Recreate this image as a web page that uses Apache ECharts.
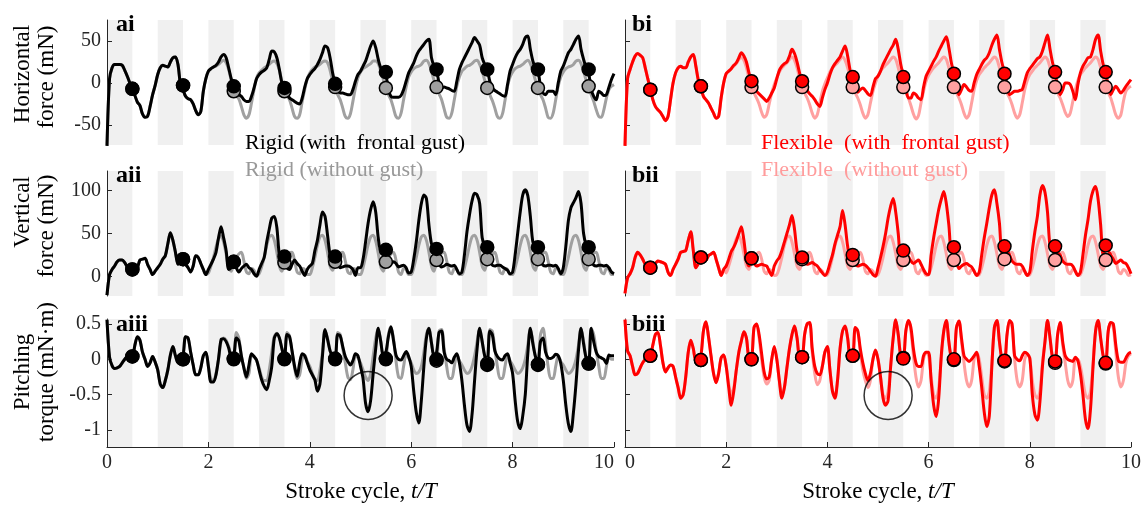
<!DOCTYPE html>
<html><head><meta charset="utf-8">
<script src="https://cdn.jsdelivr.net/npm/echarts@6/dist/echarts.min.js"></script>
<style>html,body{margin:0;padding:0;background:#fff}#c{width:1146px;height:505px}</style>
</head><body><div id="c"></div>
<script>
const bandStart = [0, 1, 2, 3, 4, 5, 6, 7, 8, 9];
const bandEnd   = [0.5, 1.5, 2.5, 3.5, 4.5, 5.5, 6.5, 7.5, 8.5, 9.5];
const markerT   = [0.5, 1.5, 2.5, 3.5, 4.5, 5.5, 6.5, 7.5, 8.5, 9.5];
const xTicks = [0, 2, 4, 6, 8, 10];
const yTicksH = [-50, 0, 50];
const yTicksV = [0, 50, 100];
const yTicksT = [-1, -0.5, 0, 0.5];

// Horizontal force (mN)
const rigidGustH = [
 -75,5,18,22,22,22,21,15,8,0,-7,-15,-23,-27,-37,-41,-40,-28,-14,-3,
 10,18,21,20,19,25,30,31,22,-2,-8,-16,-19,-20,-25,-33,-38,-34,-10,5,
 14,17,19,21,25,31,34,30,18,5,-5,-11,-14,-16,-20,-22,-22,-16,-6,5,
 10,13,15,18,28,38,37,30,16,0,-6,-12,-18,-20,-22,-24,-25,-18,-5,5,
 10,14,17,22,28,36,44,42,30,12,-1,-8,-12,-12,-13,-14,-14,-8,2,10,
 14,20,26,35,44,50,42,28,18,15,10,-8,-16,-17,-17,-17,-15,-8,2,12,
 18,24,32,38,42,46,50,52,30,20,15,0,-6,-5,-6,-7,-9,-10,2,16,
 24,30,36,42,48,54,50,45,30,22,16,2,-6,-9,-11,-13,-15,-16,-2,14,
 22,30,36,40,46,54,56,40,26,18,15,-4,-12,-14,-10,-10,-10,-14,0,14,
 20,28,36,40,46,52,56,40,28,18,12,-8,-16,-20,-10,-12,-15,-14,-5,4,
 11];
const rigidNoGustH = [
 -75,5,18,22,22,22,21,15,8,0,-7,-15,-23,-27,-37,-41,-40,-28,-14,-3,
 10,18,21,20,19,25,30,31,22,-2,-8,-16,-19,-20,-25,-33,-38,-34,-10,5,
 14,17,19,20,22,25,27,24,16,3,-9,-15,-19,-28,-38,-42,-38,-24,-8,6,
 12,15,18,20,22,25,26,23,15,2,-9,-15,-20,-30,-40,-42,-38,-22,-8,5,
 12,16,19,20,22,25,26,24,15,2,-6,-14,-20,-30,-40,-42,-37,-22,-6,6,
 13,17,19,21,23,26,26,23,14,4,-6,-14,-20,-30,-40,-42,-36,-20,-5,7,
 13,17,19,20,22,26,27,23,14,3,-5,-13,-20,-31,-41,-42,-36,-20,-4,7,
 14,17,20,21,23,26,27,22,14,3,-6,-14,-21,-30,-40,-42,-37,-21,-4,7,
 13,17,19,20,22,25,27,23,14,3,-6,-14,-20,-30,-41,-42,-36,-20,-4,7,
 13,17,19,20,22,26,27,23,14,3,-5,-14,-22,-32,-40,-41,-32,-18,-8,-4,
 -2];
const flexGustH = [
 -75,5,16,25,32,35,33,30,18,5,-7,-20,-28,-32,-35,-40,-45,-40,-20,0,
 12,18,20,18,18,25,31,34,20,3,-6,-16,-20,-24,-30,-36,-42,-40,-18,0,
 11,14,17,21,24,30,36,32,25,12,2,-5,-10,-13,-16,-19,-22,-18,-12,-6,
 5,15,20,23,25,32,40,35,25,12,2,-5,-9,-13,-16,-20,-25,-28,-18,-8,
 0,10,18,23,27,31,38,44,32,15,7,-5,-11,-8,-6,-9,-13,-15,-5,5,
 8,14,22,28,34,40,45,52,40,22,9,-5,-18,-18,-12,-14,-18,-20,-5,8,
 14,20,26,31,38,44,50,55,42,24,11,-5,-14,-8,-2,-5,-9,-10,0,10,
 16,22,27,30,36,45,52,57,40,24,12,-5,-14,-12,-10,-10,-9,-8,2,12,
 17,21,25,29,31,38,48,57,40,24,13,-5,-14,-8,0,0,-2,-10,-20,-2,
 12,20,25,30,31,40,52,57,38,22,13,-5,-14,-8,-4,-8,-12,-9,-4,0,
 4];
const flexNoGustH = [
 -75,5,16,25,32,35,33,30,18,5,-7,-20,-28,-32,-35,-40,-45,-40,-20,0,
 12,18,20,18,18,25,31,34,20,3,-6,-16,-20,-24,-30,-36,-42,-40,-18,0,
 11,14,17,20,23,28,30,27,18,6,-5,-12,-18,-25,-35,-41,-38,-25,-12,-2,
 6,13,18,21,24,28,31,27,18,6,-5,-12,-18,-26,-36,-42,-38,-24,-10,-1,
 6,13,18,21,24,28,31,27,18,6,-5,-12,-18,-26,-36,-42,-38,-24,-10,0,
 8,14,18,21,24,28,31,28,18,6,-5,-12,-18,-27,-37,-43,-39,-24,-10,2,
 9,14,18,21,24,28,31,28,18,6,-5,-12,-18,-26,-36,-42,-38,-24,-8,3,
 10,14,18,21,24,28,31,28,18,6,-5,-12,-18,-26,-36,-42,-38,-24,-8,3,
 10,14,18,21,24,28,31,28,18,6,-5,-12,-18,-26,-35,-40,-36,-22,-8,3,
 10,14,18,21,24,28,31,28,18,6,-5,-12,-18,-28,-38,-42,-38,-22,-10,-6,
 -4];

// Vertical force (mN)
const rigidGustV = [
 -22,2,8,12,17,19,19,16,11,9,8,5,10,19,20,21,14,8,2,6,
 10,14,20,24,38,51,42,28,14,19,19,14,10,5,12,24,22,15,8,2,
 8,14,20,28,45,58,45,30,8,10,17,10,5,9,12,14,10,8,3,0,
 8,15,22,40,55,68,70,57,25,20,22,10,8,14,19,15,12,6,1,8,
 12,15,30,42,60,75,70,48,25,18,23,15,10,11,12,12,11,8,1,10,
 10,20,40,62,78,87,75,45,30,31,30,18,15,17,15,11,12,13,10,4,
 5,20,40,65,85,95,91,60,38,33,30,15,11,12,14,13,12,13,8,3,
 5,25,52,72,88,97,95,85,45,36,34,20,13,12,13,13,11,9,7,3,
 5,25,50,75,95,101,94,70,40,36,33,18,13,12,13,13,12,13,9,3,
 10,35,65,80,86,92,99,85,50,37,33,18,13,12,13,13,12,13,10,5,
 3];
const rigidNoGustV = [
 -22,2,8,12,17,19,19,16,11,9,8,5,10,19,20,21,14,8,2,6,
 10,14,20,24,38,51,42,28,14,19,19,14,10,5,12,24,22,15,8,2,
 4,12,22,34,44,47,40,26,10,6,16,22,26,28,18,5,3,9,7,1,
 3,11,22,36,46,48,42,28,12,6,16,22,27,28,18,5,3,9,8,2,
 2,10,22,36,46,48,42,28,12,7,17,22,26,28,18,5,3,9,8,2,
 2,10,23,37,46,48,41,27,11,6,17,22,26,28,19,5,2,9,8,2,
 2,10,22,36,46,48,42,28,12,6,19,23,27,28,18,5,3,9,8,2,
 2,10,22,36,46,48,42,28,12,7,20,23,26,28,18,5,3,9,8,2,
 2,10,22,36,46,48,42,28,12,7,20,23,27,28,18,5,3,9,8,2,
 2,10,22,36,46,48,42,28,12,7,20,23,27,28,18,5,3,9,8,2,
 2];
const flexGustV = [
 -20,-2,3,10,22,28,25,20,14,11,10,13,15,18,17,16,14,5,1,8,
 14,20,28,29,30,42,52,30,10,15,22,20,19,24,26,28,20,10,1,8,
 12,20,29,34,41,50,58,42,20,12,21,15,12,13,14,13,12,6,1,12,
 18,22,30,40,50,60,71,55,30,22,22,16,14,15,16,14,12,8,4,1,
 5,15,25,38,48,58,77,60,35,22,25,15,12,13,14,13,10,6,2,0,
 10,22,35,50,68,82,91,75,50,19,30,27,23,18,15,17,19,14,8,3,
 2,25,45,62,78,90,99,85,60,30,34,18,9,12,14,15,13,11,6,1,
 5,25,45,62,80,95,101,85,62,27,34,30,25,18,15,14,14,12,6,1,
 5,30,52,70,95,106,98,75,35,33,35,28,25,18,15,14,14,12,6,1,
 5,25,48,66,88,100,105,90,60,25,36,30,25,20,15,17,19,16,15,10,
 3];
const flexNoGustV = [
 -20,-2,3,10,22,28,25,20,14,11,10,13,15,18,17,16,14,5,1,8,
 14,20,28,29,30,42,52,30,10,15,22,20,19,24,26,28,20,10,1,8,
 4,12,22,34,44,47,40,26,12,8,18,22,26,28,20,6,3,8,6,1,
 2,10,22,36,45,47,40,26,12,8,18,22,26,28,20,6,3,8,6,1,
 2,10,22,36,45,47,40,26,12,8,18,22,26,28,20,6,3,8,6,1,
 2,10,22,36,45,47,40,26,12,8,18,22,26,28,20,6,3,8,6,1,
 2,10,22,36,45,47,40,26,12,8,18,22,26,28,20,6,3,8,6,1,
 2,10,22,36,45,47,40,26,12,8,19,22,26,28,20,6,3,8,6,1,
 2,10,22,36,45,47,40,26,12,8,19,22,26,28,20,6,3,8,6,1,
 2,10,22,36,45,47,40,26,12,8,19,22,26,28,20,6,3,8,6,1,
 2];

// Pitching torque (mN·m)
const rigidGustT = [
 0.56,0.03,-0.09,-0.13,-0.12,-0.1,-0.05,0,0.04,0.04,0.04,0.2,0.32,0.27,0.1,0,-0.1,-0.05,0.04,-0.04,
 -0.15,-0.35,-0.4,-0.3,-0.15,0.06,0.18,0.05,-0.05,-0.03,0.05,0.32,0.3,0.1,-0.08,-0.22,-0.22,-0.12,0.05,0.1,
 -0.1,-0.32,-0.32,-0.22,0.01,0.28,0.29,0.25,0.16,0.04,0.05,0.3,0.26,0.05,-0.12,-0.25,-0.08,0.08,0.04,-0.01,
 -0.15,-0.29,-0.38,-0.43,-0.3,-0.1,0.3,0.36,0.3,0.15,0.02,0.35,0.32,0.12,-0.1,-0.24,-0.05,0.08,0.05,-0.05,
 -0.15,-0.22,-0.29,-0.45,-0.35,0.05,0.42,0.28,0.12,0.04,0.02,0.35,0.33,0.18,0.04,-0.03,-0.08,-0.02,0.08,0.05,
 -0.1,-0.27,-0.62,-0.74,-0.58,-0.2,0.15,0.44,0.25,0.05,0.1,0.32,0.46,0.27,0.06,0,-0.01,0.05,0.11,0.04,
 -0.1,-0.45,-0.75,-0.9,-0.58,-0.1,0.3,0.44,0.23,0.04,0.1,0.38,0.4,0.1,0,-0.02,-0.05,0.03,0.08,-0.05,
 -0.3,-0.65,-0.93,-1.02,-0.78,-0.3,0.15,0.44,0.25,0.05,-0.02,0.4,0.35,0.12,0.04,0,-0.01,0.05,0.08,-0.05,
 -0.2,-0.58,-0.88,-0.98,-0.8,-0.5,0.08,0.44,0.22,0.04,-0.05,0.25,0.3,0.1,0.02,0.01,0.03,0.07,0.05,-0.06,
 -0.3,-0.65,-0.91,-1.02,-0.75,-0.35,0.13,0.44,0.22,0.02,-0.04,0.44,0.25,0.1,0.04,0.02,0,-0.06,0.06,0.05,
 0.05];
const rigidNoGustT = [
 0.56,0.03,-0.09,-0.13,-0.12,-0.1,-0.05,0,0.04,0.04,0.04,0.2,0.32,0.27,0.1,0,-0.1,-0.05,0.04,-0.04,
 -0.15,-0.35,-0.4,-0.3,-0.15,0.06,0.18,0.05,-0.05,-0.03,0.05,0.32,0.3,0.1,-0.08,-0.22,-0.22,-0.12,0.05,0.1,
 -0.1,-0.28,-0.3,-0.2,0,0.25,0.3,0.27,0.18,0.05,0.02,0.38,0.3,0.05,-0.12,-0.27,-0.2,0.05,0.04,-0.02,
 -0.12,-0.25,-0.3,-0.3,-0.15,0.1,0.32,0.37,0.3,0.15,0,0.38,0.33,0.1,-0.12,-0.27,-0.22,0,0.06,-0.03,
 -0.1,-0.2,-0.28,-0.3,-0.15,0.1,0.4,0.3,0.12,0.04,0,0.38,0.35,0.15,-0.05,-0.25,-0.29,-0.15,0.05,0.02,
 -0.05,-0.15,-0.25,-0.3,-0.2,0.05,0.3,0.44,0.25,0.05,0.05,0.35,0.46,0.3,-0.02,-0.25,-0.27,-0.1,0.08,0.02,
 -0.05,-0.15,-0.2,-0.18,-0.1,0.1,0.35,0.44,0.23,0.04,0,0.4,0.42,0.15,-0.1,-0.27,-0.27,-0.1,0.06,-0.02,
 -0.08,-0.15,-0.2,-0.18,-0.1,0.05,0.25,0.44,0.25,0.05,-0.04,0.42,0.4,0.15,-0.1,-0.27,-0.27,-0.1,0.06,-0.02,
 -0.08,-0.15,-0.2,-0.18,-0.12,0,0.2,0.44,0.25,0.04,-0.06,0.35,0.44,0.2,-0.1,-0.27,-0.27,-0.1,0.05,-0.03,
 -0.08,-0.15,-0.2,-0.18,-0.12,0,0.2,0.44,0.25,0.04,-0.05,0.44,0.35,0.12,-0.1,-0.27,-0.27,-0.1,0.04,0,
 0];
const flexGustT = [
 0.56,0.12,0.05,-0.1,-0.22,-0.2,-0.12,-0.05,0,0.03,0.05,0.2,0.35,0.38,0.2,-0.05,-0.18,-0.12,-0.08,-0.1,
 -0.25,-0.4,-0.55,-0.5,-0.25,0.1,0.27,0.15,-0.02,-0.02,0.05,0.4,0.53,0.32,0.05,-0.2,-0.33,-0.2,0.02,0.06,
 -0.1,-0.4,-0.65,-0.45,-0.15,0.1,0.26,0.39,0.3,0.05,0.05,0.45,0.5,0.35,0.08,-0.18,-0.28,-0.25,0,0.18,
 0,-0.3,-0.55,-0.4,-0.12,0.15,0.35,0.47,0.3,0.05,0.05,0.35,0.5,0.52,0.15,-0.1,-0.2,-0.22,-0.1,0.1,
 0.18,-0.15,-0.45,-0.55,-0.3,0.15,0.4,0.47,0.3,0.05,0.05,0.45,0.4,0.15,-0.05,-0.2,-0.3,-0.2,0,0.13,
 0,-0.25,-0.55,-0.65,-0.58,-0.1,0.3,0.56,0.35,0.05,0.02,0.4,0.55,0.45,0.15,-0.05,-0.1,-0.1,0.05,0.1,
 0.1,-0.3,-0.65,-0.81,-0.55,0.05,0.4,0.55,0.25,0.02,0,0.45,0.54,0.3,0.05,0,-0.03,0,0.05,0.1,
 -0.1,-0.4,-0.75,-0.95,-0.8,-0.1,0.45,0.55,0.25,0,-0.02,0.35,0.55,0.5,0.05,0,-0.02,0.05,0.1,0.08,
 0.02,-0.5,-0.78,-0.86,-0.6,-0.1,0.25,0.55,0.3,0.02,-0.02,0.35,0.52,0.25,0.05,0,-0.02,-0.03,0.03,-0.02,
 -0.2,-0.5,-0.85,-0.98,-0.7,-0.1,0.4,0.55,0.3,0.05,-0.04,0.4,0.52,0.5,0.2,-0.02,-0.04,-0.04,0.02,0.08,
 0.1];
const flexNoGustT = [
 0.56,0.12,0.05,-0.1,-0.22,-0.2,-0.12,-0.05,0,0.03,0.05,0.2,0.35,0.38,0.2,-0.05,-0.18,-0.12,-0.08,-0.1,
 -0.25,-0.4,-0.55,-0.5,-0.25,0.1,0.27,0.15,-0.02,-0.02,0.05,0.4,0.53,0.32,0.05,-0.2,-0.33,-0.2,0.02,0.06,
 -0.1,-0.35,-0.5,-0.4,-0.15,0.1,0.26,0.39,0.3,0.05,0.05,0.45,0.5,0.3,0,-0.25,-0.35,-0.3,0,0.15,
 0,-0.3,-0.5,-0.4,-0.12,0.15,0.35,0.47,0.3,0.05,0.05,0.35,0.5,0.5,0.1,-0.2,-0.36,-0.3,-0.1,0.1,
 0.15,-0.15,-0.45,-0.5,-0.3,0.15,0.4,0.47,0.3,0.05,0.05,0.45,0.4,0.1,-0.15,-0.3,-0.4,-0.3,0,0.12,
 0,-0.25,-0.5,-0.55,-0.45,-0.1,0.3,0.55,0.35,0.05,0.02,0.4,0.55,0.4,0.05,-0.25,-0.39,-0.3,0,0.1,
 0.05,-0.25,-0.5,-0.55,-0.4,0,0.4,0.55,0.25,0.02,-0.01,0.45,0.54,0.25,-0.05,-0.3,-0.39,-0.3,0,0.1,
 0,-0.25,-0.5,-0.55,-0.45,-0.05,0.45,0.55,0.25,0,-0.03,0.35,0.55,0.45,0,-0.3,-0.39,-0.3,0,0.08,
 0,-0.3,-0.5,-0.55,-0.45,-0.05,0.25,0.55,0.3,0.02,-0.05,0.35,0.52,0.2,-0.05,-0.3,-0.39,-0.3,0,0,
 -0.1,-0.3,-0.5,-0.55,-0.45,-0.05,0.4,0.55,0.3,0.05,-0.06,0.4,0.52,0.45,0.1,-0.25,-0.39,-0.3,-0.05,0.05,
 0.08];

// markers at mid-stroke
const rigidGustHMk   = [-7, -3, -4, -6, -1, 13, 16, 16, 16, 16];
const rigidNoGustHMk = [-7, -3, -10, -10, -5, -6, -5, -6, -6, -4];
const flexGustHMk    = [-8, -4, 2, 2, 7, 7, 11, 11, 13, 13];
const flexNoGustHMk  = [-8, -4, -5, -5, -5, -5, -5, -5, -5, -5];
const rigidGustVMk   = [8, 20, 17, 23, 23, 31, 32, 34, 34, 34];
const rigidNoGustVMk = [8, 20, 17, 16, 17, 17, 19, 20, 20, 20];
const flexGustVMk    = [10, 22, 21, 22, 25, 30, 34, 35, 35, 36];
const flexNoGustVMk  = [10, 22, 21, 20, 19, 19, 19, 20, 19, 19];
const rigidGustTMk   = [0.04, 0, 0.01, 0.01, 0.01, 0.01, 0, -0.08, -0.08, -0.06];
const rigidNoGustTMk = [0.04, 0, 0, 0, 0, 0, -0.02, -0.06, -0.07, -0.06];
const flexGustTMk    = [0.05, -0.01, 0, 0.03, 0.05, 0.01, 0, -0.02, -0.03, -0.05];
const flexNoGustTMk  = [0.05, -0.01, 0, 0.03, 0.05, 0.02, -0.01, -0.03, -0.05, -0.06];

// highlighted regions (circles) in the torque panels
const circleRigid = [[5.15, -0.51]];
const circleFlex  = [[5.2, -0.51]];

// ---------- chart ----------
const T = Array.from({length: 201}, (_, i) => Math.round(i * 5) / 100);
const pts = v => v.map((y, i) => [T[i], y]);
const mk = v => v.map((y, i) => [markerT[i], y]);

const FONT = "'Liberation Serif','Times New Roman',serif";
const AX = '#262626';
const C = {black: '#000000', gray: '#a0a0a0', red: '#ff0000', pink: '#ffa0a0'};

const gridPos = [
  {left: 107, top: 20,  width: 507, height: 125},
  {left: 625, top: 20,  width: 506, height: 125},
  {left: 107, top: 171, width: 507, height: 125},
  {left: 625, top: 171, width: 506, height: 125},
  {left: 107, top: 319, width: 507, height: 128},
  {left: 625, top: 319, width: 506, height: 128}
];
const yRange = [[-74, 75], [-74, 75], [-23, 123], [-23, 123], [-1.24, 0.57], [-1.24, 0.57]];
const yTicks = [yTicksH, yTicksH, yTicksV, yTicksV, yTicksT, yTicksT];

const xAxis = gridPos.map((g, i) => {
  const bottom = i >= 4;
  return {
    type: 'value', gridIndex: i, min: 0, max: 10, interval: 2,
    show: true,
    axisLine: {show: bottom, onZero: false, lineStyle: {color: AX, width: 1}},
    axisTick: {show: bottom, inside: true, length: 5, lineStyle: {color: AX},
               customValues: xTicks},
    axisLabel: {show: bottom, color: AX, fontFamily: FONT, fontSize: 20, margin: 6,
                customValues: xTicks,
                alignMaxLabel: i === 4 ? 'right' : 'center',
                alignMinLabel: i === 5 ? 'left' : 'center'},
    splitLine: {show: false}
  };
});
const yAxis = gridPos.map((g, i) => ({
  type: 'value', gridIndex: i, min: yRange[i][0], max: yRange[i][1],
  axisLine: {show: true, onZero: false, lineStyle: {color: AX, width: 1}},
  axisTick: {show: true, inside: true, length: 5, lineStyle: {color: AX}, customValues: yTicks[i]},
  axisLabel: {show: i % 2 === 0, color: AX, fontFamily: FONT, fontSize: 20, margin: 6,
              customValues: yTicks[i]},
  splitLine: {show: false}
}));

const series = [];
function addPanel(gi, under, over, underMk, overMk, cu, co) {
  series.push({
    type: 'custom', xAxisIndex: gi, yAxisIndex: gi, z: 0, silent: true,
    data: bandStart.map((s, k) => [s, bandEnd[k]]),
    encode: {x: [0, 1]},
    renderItem(params, api) {
      const cs = params.coordSys;
      const x0 = api.coord([api.value(0), 0])[0];
      const x1 = api.coord([api.value(1), 0])[0];
      return {type: 'rect', shape: {x: x0, y: cs.y, width: x1 - x0, height: cs.height},
              style: {fill: '#f0f0f0'}};
    }
  });
  series.push({type: 'line', xAxisIndex: gi, yAxisIndex: gi, z: 2, data: pts(under),
    showSymbol: false, smooth: 0.3, silent: true, lineStyle: {color: cu, width: 3}});
  series.push({type: 'line', xAxisIndex: gi, yAxisIndex: gi, z: 3, data: pts(over),
    showSymbol: false, smooth: 0.3, silent: true, lineStyle: {color: co, width: 3}});
  series.push({type: 'scatter', xAxisIndex: gi, yAxisIndex: gi, z: 4, data: mk(underMk),
    symbolSize: 13, silent: true, itemStyle: {color: cu, borderColor: '#000', borderWidth: 1.5, opacity: 1}});
  series.push({type: 'scatter', xAxisIndex: gi, yAxisIndex: gi, z: 5, data: mk(overMk),
    symbolSize: 13, silent: true, itemStyle: {color: co, borderColor: '#000', borderWidth: 1.5, opacity: 1}});
}
addPanel(0, rigidNoGustH, rigidGustH, rigidNoGustHMk, rigidGustHMk, C.gray, C.black);
addPanel(1, flexNoGustH, flexGustH, flexNoGustHMk, flexGustHMk, C.pink, C.red);
addPanel(2, rigidNoGustV, rigidGustV, rigidNoGustVMk, rigidGustVMk, C.gray, C.black);
addPanel(3, flexNoGustV, flexGustV, flexNoGustVMk, flexGustVMk, C.pink, C.red);
addPanel(4, rigidNoGustT, rigidGustT, rigidNoGustTMk, rigidGustTMk, C.gray, C.black);
addPanel(5, flexNoGustT, flexGustT, flexNoGustTMk, flexGustTMk, C.pink, C.red);
[[4, circleRigid], [5, circleFlex]].forEach(([gi, d]) => series.push({
  type: 'scatter', xAxisIndex: gi, yAxisIndex: gi, z: 6, data: d, symbolSize: 48, silent: true,
  itemStyle: {color: 'rgba(0,0,0,0)', borderColor: '#000', borderWidth: 1.5}
}));

function txt(x, y, text, o) {
  return Object.assign({type: 'text', x, y, silent: true, z: 100,
    style: Object.assign({text, fontFamily: FONT, fontSize: 22, fill: '#000',
      align: 'left', verticalAlign: 'middle'}, o && o.style || {})},
    o && o.rotation ? {rotation: o.rotation} : {});
}
const R = Math.PI / 2;
const yt = {rotation: R, style: {align: 'center', fontSize: 23}};
const graphic = [
  txt(116, 25, 'ai', {style: {fontWeight: 'bold', fontSize: 24}}),
  txt(116, 176, 'aii', {style: {fontWeight: 'bold', fontSize: 24}}),
  txt(116, 325, 'aiii', {style: {fontWeight: 'bold', fontSize: 24}}),
  txt(632, 25, 'bi', {style: {fontWeight: 'bold', fontSize: 24}}),
  txt(632, 176, 'bii', {style: {fontWeight: 'bold', fontSize: 24}}),
  txt(632, 325, 'biii', {style: {fontWeight: 'bold', fontSize: 24}}),
  txt(245, 143, 'Rigid (with  frontal gust)', {style: {fill: C.black}}),
  txt(245, 170, 'Rigid (without gust)', {style: {fill: '#999999'}}),
  txt(761, 143, 'Flexible  (with  frontal gust)', {style: {fill: C.red}}),
  txt(761, 170, 'Flexible  (without gust)', {style: {fill: '#ff9c9c'}}),
  txt(23, 74, 'Horizontal', yt),
  txt(47, 77, 'force (mN)', yt),
  txt(23, 212, 'Vertical', yt),
  txt(47, 226, 'force (mN)', yt),
  txt(23, 372, 'Pitching', yt),
  txt(47, 372, 'torque (mN\u00b7m)', yt),
  txt(361, 492, 'Stroke cycle, {i|t/T}', {style: {align: 'center', fontSize: 23,
      rich: {i: {fontStyle: 'italic', fontFamily: FONT, fontSize: 23}}}}),
  txt(878, 492, 'Stroke cycle, {i|t/T}', {style: {align: 'center', fontSize: 23,
      rich: {i: {fontStyle: 'italic', fontFamily: FONT, fontSize: 23}}}})
];

const chart = echarts.init(document.getElementById('c'), null, {renderer: 'canvas'});
chart.setOption({
  animation: false,
  backgroundColor: '#ffffff',
  grid: gridPos.map(g => Object.assign({containLabel: false}, g)),
  xAxis, yAxis, series, graphic
});
</script></body></html>
